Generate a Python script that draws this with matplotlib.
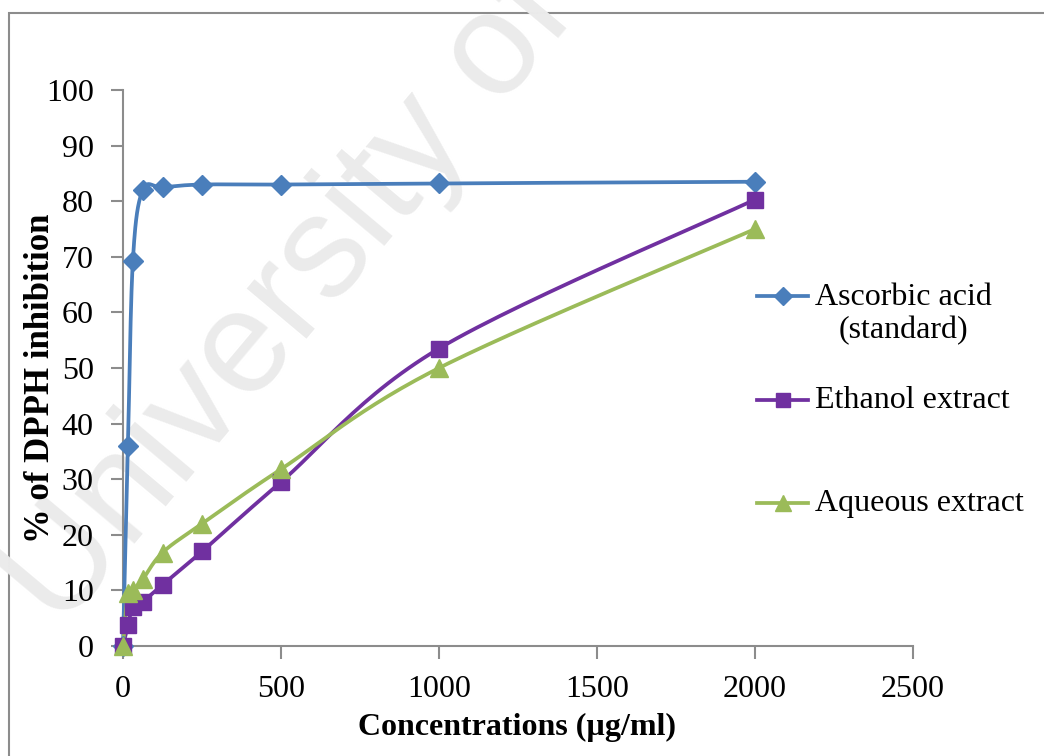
import numpy as np
import matplotlib
matplotlib.use("Agg")
import matplotlib.pyplot as plt
from matplotlib.lines import Line2D
from matplotlib.patches import Rectangle

# ---- data ----
conc = [0, 15.6, 31.25, 62.5, 125, 250, 500, 1000, 2000]
ascorbic = [0, 36, 69.3, 82, 82.5, 83, 83, 83.2, 83.5]
ethanol = [0, 3.8, 7, 8, 11, 17, 29.5, 53.5, 80.3]
aqueous = [0, 9.5, 10, 12, 16.8, 22, 31.8, 50, 75]
series_names = ["Ascorbic acid\n(standard)", "Ethanol extract", "Aqueous extract"]
colors = ["#4A7EBB", "#7030A0", "#9BBB59"]
markers = ["D", "s", "^"]
msizes = [10, 11, 13]
xticks = [0, 500, 1000, 1500, 2000, 2500]
yticks = list(range(0, 101, 10))

plt.rcParams['font.family'] = ['Liberation Serif', 'DejaVu Serif']

fig = plt.figure(figsize=(10.44, 7.56), dpi=100)
W, H = 1044, 756
ax = fig.add_axes([123 / W, 1 - 646 / H, 790 / W, 556 / H])
ax.patch.set_alpha(0)
ax.set_zorder(2)

# outer frame
fig.add_artist(Rectangle((9 / W, -0.05), 1.2, 1 - 13 / H + 0.05, transform=fig.transFigure,
                         fill=False, edgecolor="#8c8c8c", linewidth=1.5, zorder=0))

# watermark
wm = fig.text(290 / W, 1 - 300 / H, "University of", rotation=50, fontsize=105,
              color="#ebebeb", ha="center", va="center", family="Liberation Sans", zorder=1)
wm.set_clip_on(True)

XR, YR = 2500.0, 100.0


def smooth(xs, ys, n=30):
    # Excel-like smoothed line (cardinal Bezier) computed in scaled space
    X = np.array(xs) / XR * 790
    Y = np.array(ys) / YR * 556
    P = np.column_stack([X, Y])
    out = [P[0]]
    m = len(P)
    t = np.linspace(0, 1, n)[1:]
    for i in range(m - 1):
        p0 = P[i - 1] if i > 0 else P[i]
        p1 = P[i]
        p2 = P[i + 1]
        p3 = P[i + 2] if i + 2 < m else P[i + 1]
        c1 = p1 + (p2 - p0) / 6
        c2 = p2 - (p3 - p1) / 6
        seg = ((1 - t) ** 3)[:, None] * p1 + (3 * (1 - t) ** 2 * t)[:, None] * c1 + \
              (3 * (1 - t) * t ** 2)[:, None] * c2 + (t ** 3)[:, None] * p2
        out.extend(seg)
    out = np.array(out)
    return out[:, 0] / 790 * XR, out[:, 1] / 556 * YR


for ys, c, mk, ms in zip([ascorbic, ethanol, aqueous], colors, markers, msizes):
    sx, sy = smooth(conc, ys)
    ax.plot(sx, sy, color=c, linewidth=2.7, zorder=3, clip_on=False)
    ax.plot(conc, ys, linestyle="none", marker=mk, markersize=ms, color=c,
            markeredgecolor=c, zorder=4, clip_on=False)

ax.set_xlim(0, 2500)
ax.set_ylim(0, 100)
ax.set_xticks(xticks)
ax.set_yticks(yticks)
for s in ["top", "right"]:
    ax.spines[s].set_visible(False)
for s in ["left", "bottom"]:
    ax.spines[s].set_color("#8c8c8c")
    ax.spines[s].set_linewidth(1.5)
ax.tick_params(axis="both", direction="out", length=9, width=1.5, color="#8c8c8c",
               labelsize=23, labelcolor="black")
ax.tick_params(axis="y", pad=12)
ax.tick_params(axis="x", pad=12)

ax.set_xlabel("Concentrations (µg/ml)", fontsize=23, fontweight="bold", va="center")
ax.set_ylabel("% of DPPH inhibition", fontsize=25, fontweight="bold")
ax.xaxis.set_label_coords((517 - 123) / 790, -(727 - 646) / 556)
ax.yaxis.set_label_coords(-(123 - 57) / 790, (646 - 378) / 556)

# legend (manual)
leg_y = [296, 400, 503]
for name, c, mk, ms, yy in zip(series_names, colors, markers, msizes, leg_y):
    yf = 1 - yy / H
    fig.add_artist(Line2D([757 / W, 808 / W], [yf, yf], transform=fig.transFigure,
                          color=c, linewidth=2.7))
    fig.add_artist(Line2D([783 / W], [yf], transform=fig.transFigure, color=c,
                          marker=mk, markersize=ms - 1, linestyle="none"))
    if "\n" in name:
        fig.text(903 / W, 1 - (yy + 18) / H, name, fontsize=23, ha="center", va="center",
                 multialignment="center", linespacing=1.2)
    else:
        fig.text(815 / W, yf, name, fontsize=23, ha="left", va="center")

fig.savefig("out.png", dpi=100)
